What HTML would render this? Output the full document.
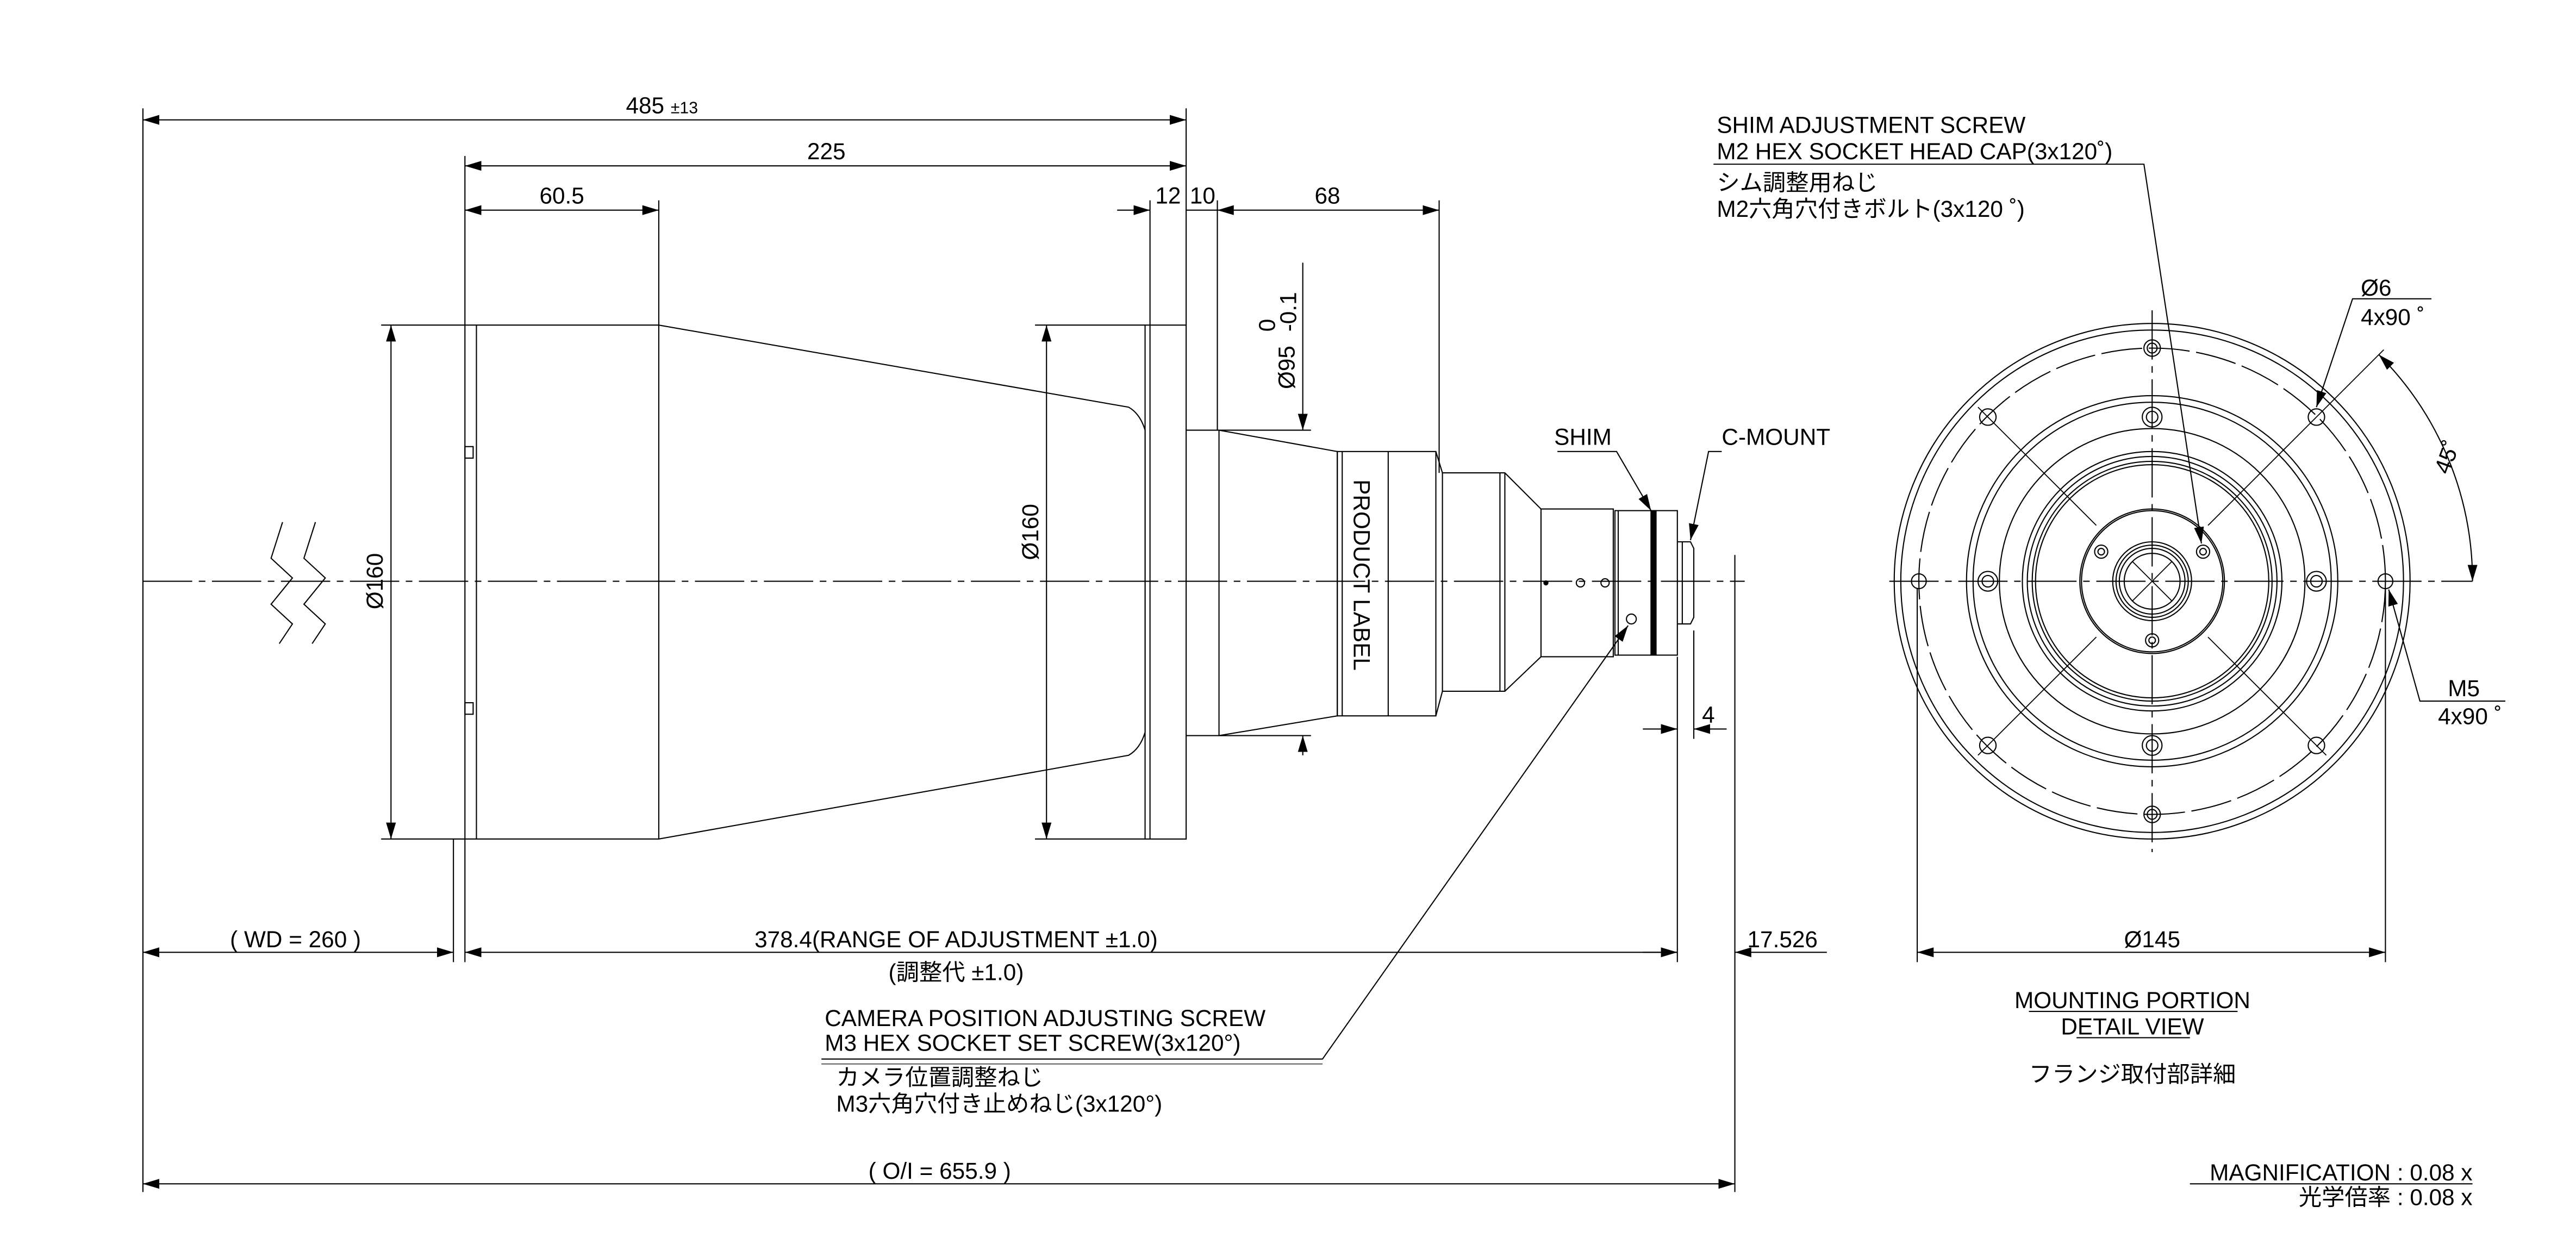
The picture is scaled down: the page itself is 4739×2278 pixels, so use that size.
<!DOCTYPE html>
<html><head><meta charset="utf-8"><style>
html,body{margin:0;padding:0;background:#fff}
svg{display:block}
text{font-family:"Liberation Sans","Noto Sans CJK JP",sans-serif;fill:#000;font-size:14px}
</style></head><body>
<svg width="4739" height="2278" viewBox="0 0 1568 754" preserveAspectRatio="none" xmlns="http://www.w3.org/2000/svg">
<defs>
<marker id="a" viewBox="0 0 10 6" refX="10" refY="3" markerWidth="10" markerHeight="6" orient="auto-start-reverse" markerUnits="userSpaceOnUse"><path d="M0,0 L10,3 L0,6z" fill="#000"/></marker>
</defs>
<g fill="none" stroke="#000" stroke-width="0.7">
<line x1="87" y1="354" x2="1062" y2="354" stroke-dasharray="30,4,4,4"/>
<polyline points="172,318 165,340 178,352 165,368 178,380 170,392"/>
<polyline points="192,318 185,340 198,352 185,368 198,380 190,392"/>
<path d="M283,198 L401,198 L687,248 Q694,252 697,262 L697,446 Q694,456 687,460 L401,511 L283,511 Z"/>
<line x1="290" y1="198" x2="290" y2="511"/>
<line x1="401" y1="198" x2="401" y2="511"/>
<rect x="283" y="272" width="5" height="7"/><rect x="283" y="428" width="5" height="7"/>
<rect x="697" y="198" width="25" height="313"/>
<line x1="700" y1="198" x2="700" y2="511"/>
<path d="M722,262 L742,262 L814,275 L814,436 L742,448 L722,448"/>
<line x1="742" y1="262" x2="742" y2="448"/>
<rect x="814" y="275" width="60" height="161"/>
<line x1="817" y1="275" x2="817" y2="436"/>
<line x1="845" y1="275" x2="845" y2="436"/>
<path d="M874,275 L878,288 L916,288 L938,310 L982,310 L982,400 L938,400 L916,421 L878,421 L874,436"/>
<line x1="878" y1="288" x2="878" y2="421"/>
<line x1="913" y1="288" x2="913" y2="421"/>
<line x1="916" y1="288" x2="916" y2="421"/>
<line x1="938" y1="310" x2="938" y2="400"/>
<rect x="983" y="311" width="22" height="88"/>
<line x1="985" y1="311" x2="985" y2="399"/>
<rect x="1005" y="311" width="3" height="88" fill="#000"/>
<rect x="1008" y="311" width="13" height="88"/>
<path d="M1021,330 L1029,330 L1031,334 L1031,376 L1029,380 L1021,380"/>
<line x1="1024" y1="330" x2="1024" y2="380"/>
<circle cx="941" cy="355" r="1.2" fill="#000"/>
<circle cx="962" cy="355" r="2.5"/><circle cx="977" cy="355" r="2.5"/>
<circle cx="993" cy="377" r="3"/>
<line x1="793" y1="160" x2="793" y2="262" marker-end="url(#a)"/>
<line x1="793" y1="460" x2="793" y2="448" marker-end="url(#a)"/>
<line x1="742" y1="262" x2="798" y2="262"/><line x1="742" y1="448" x2="798" y2="448"/>
<line x1="232" y1="198" x2="283" y2="198"/><line x1="232" y1="511" x2="283" y2="511"/>
<line x1="238" y1="198" x2="238" y2="511" marker-start="url(#a)" marker-end="url(#a)"/>
<line x1="630" y1="198" x2="697" y2="198"/><line x1="630" y1="511" x2="697" y2="511"/>
<line x1="637" y1="198" x2="637" y2="511" marker-start="url(#a)" marker-end="url(#a)"/>
<line x1="87" y1="66" x2="87" y2="726"/>
<line x1="722" y1="66" x2="722" y2="198"/>
<line x1="283" y1="95" x2="283" y2="198"/>
<line x1="401" y1="122" x2="401" y2="198"/>
<line x1="700" y1="122" x2="700" y2="198"/>
<line x1="741" y1="122" x2="741" y2="262"/>
<line x1="876" y1="122" x2="876" y2="288"/>
<line x1="87" y1="73" x2="722" y2="73" marker-start="url(#a)" marker-end="url(#a)"/>
<line x1="283" y1="101" x2="722" y2="101" marker-start="url(#a)" marker-end="url(#a)"/>
<line x1="283" y1="128" x2="401" y2="128" marker-start="url(#a)" marker-end="url(#a)"/>
<line x1="680" y1="128" x2="700" y2="128" marker-end="url(#a)"/>
<line x1="741" y1="128" x2="876" y2="128" marker-start="url(#a)" marker-end="url(#a)"/>
<line x1="722" y1="128" x2="741" y2="128"/>
<line x1="276" y1="511" x2="276" y2="586"/>
<line x1="283" y1="511" x2="283" y2="586"/>
<line x1="1021" y1="400" x2="1021" y2="586"/>
<line x1="1056" y1="338" x2="1056" y2="726"/>
<line x1="1031" y1="384" x2="1031" y2="450"/>
<line x1="87" y1="580" x2="276" y2="580" marker-start="url(#a)" marker-end="url(#a)"/>
<line x1="283" y1="580" x2="1021" y2="580" marker-start="url(#a)" marker-end="url(#a)"/>
<line x1="1056" y1="580" x2="1112" y2="580" marker-start="url(#a)"/>
<line x1="1000" y1="580" x2="1021" y2="580"/>
<line x1="87" y1="721" x2="1056" y2="721" marker-start="url(#a)" marker-end="url(#a)"/>
<line x1="1000" y1="444" x2="1021" y2="444" marker-end="url(#a)"/>
<line x1="1051" y1="444" x2="1031" y2="444" marker-end="url(#a)"/>
<polyline points="948,275 984,275 1005,311" marker-end="url(#a)"/>
<polyline points="1048,275 1040,275 1029,329" marker-end="url(#a)"/>
<polyline points="500,645 805,645 991,381" marker-end="url(#a)"/>
<line x1="500" y1="648" x2="805" y2="648" stroke-width="0.4"/>
<g transform="translate(1310,354)">
<line x1="-160" y1="0" x2="195" y2="0" stroke-dasharray="30,4,4,4"/>
<line x1="0" y1="-165" x2="0" y2="165" stroke-dasharray="30,4,4,4"/>
<circle r="157"/><circle r="153"/>
<circle r="142" stroke-dasharray="25,4"/>
<circle r="113"/><circle r="109"/><circle r="93"/>
<circle r="79"/><circle r="76"/><circle r="73"/><circle r="71"/>
<circle r="44"/><circle r="43"/>
<circle r="24"/><circle r="22"/><circle r="20"/><circle r="17"/>
<g stroke-width="0.6">
<line x1="34" y1="-34" x2="141" y2="-141"/><line x1="-34" y1="-34" x2="-106" y2="-106"/>
<line x1="34" y1="34" x2="106" y2="106"/><line x1="-34" y1="34" x2="-106" y2="106"/>
<line x1="-12" y1="12" x2="12" y2="-12"/><line x1="-12" y1="-12" x2="12" y2="12"/>
</g>
<circle cx="-142" cy="0" r="4.5"/><circle cx="142" cy="0" r="4.5"/>
<circle cx="0" cy="-142" r="5"/><circle cx="0" cy="-142" r="3"/>
<circle cx="0" cy="142" r="5"/><circle cx="0" cy="142" r="3"/>
<circle cx="-100" cy="-100" r="5"/><circle cx="100" cy="-100" r="5"/>
<circle cx="-100" cy="100" r="5"/><circle cx="100" cy="100" r="5"/>
<circle cx="0" cy="-100" r="6"/><circle cx="0" cy="-100" r="3.5"/>
<circle cx="0" cy="100" r="6"/><circle cx="0" cy="100" r="3.5"/>
<circle cx="-100" cy="0" r="6"/><circle cx="-100" cy="0" r="3.5"/>
<circle cx="100" cy="0" r="6"/><circle cx="100" cy="0" r="3.5"/>
<circle cx="-31" cy="-18" r="4"/><circle cx="-31" cy="-18" r="2"/>
<circle cx="31" cy="-18" r="4"/><circle cx="31" cy="-18" r="2"/>
<circle cx="0" cy="36" r="4"/><circle cx="0" cy="36" r="2"/>
<path d="M138,-138 A195,195 0 0 1 195,0" marker-start="url(#a)" marker-end="url(#a)"/>
</g>
<line x1="1167" y1="358" x2="1167" y2="586"/>
<line x1="1452" y1="358" x2="1452" y2="586"/>
<line x1="1167" y1="580" x2="1452" y2="580" marker-start="url(#a)" marker-end="url(#a)"/>
<polyline points="1043,100 1305,100 1340,331" marker-end="url(#a)"/>
<polyline points="1480,182 1432,182 1410,248" marker-end="url(#a)"/>
<polyline points="1525,427 1473,427 1454,359" marker-end="url(#a)"/>
<line x1="1235" y1="616" x2="1362" y2="616"/>
<line x1="1264" y1="632" x2="1333" y2="632"/>
<line x1="1333" y1="721" x2="1505" y2="721"/>
</g>
<text x="381" y="69">485 <tspan font-size="10">±13</tspan></text>
<text x="503" y="97" text-anchor="middle">225</text>
<text x="342" y="124" text-anchor="middle">60.5</text>
<text x="711" y="124" text-anchor="middle">12</text>
<text x="732" y="124" text-anchor="middle">10</text>
<text x="808" y="124" text-anchor="middle">68</text>
<text transform="translate(233,354) rotate(-90)" text-anchor="middle">Ø160</text>
<text transform="translate(632,324) rotate(-90)" text-anchor="middle">Ø160</text>
<text transform="translate(788,237) rotate(-90)">Ø95</text>
<text transform="translate(776,202) rotate(-90)" font-size="10">0</text>
<text transform="translate(789,202) rotate(-90)" font-size="10">-0.1</text>
<text transform="translate(824,292) rotate(90)">PRODUCT LABEL</text>
<text x="946" y="271">SHIM</text>
<text x="1048" y="271">C-MOUNT</text>
<text x="1036" y="440">4</text>
<text x="140" y="577">(  WD = 260  )</text>
<text x="582" y="577" text-anchor="middle">378.4(RANGE OF ADJUSTMENT  ±1.0)</text>
<text x="582" y="597" text-anchor="middle">(調整代  ±1.0)</text>
<text x="1085" y="577" text-anchor="middle">17.526</text>
<text x="572" y="718" text-anchor="middle">(  O/I = 655.9  )</text>
<text x="502" y="625">CAMERA POSITION ADJUSTING SCREW</text>
<text x="502" y="640">M3 HEX SOCKET SET SCREW(3x120°)</text>
<text x="509" y="661">カメラ位置調整ねじ</text>
<text x="509" y="677">M3六角穴付き止めねじ(3x120°)</text>
<text x="1045" y="81">SHIM ADJUSTMENT SCREW</text>
<text x="1045" y="97">M2 HEX SOCKET HEAD CAP(3x120˚)</text>
<text x="1045" y="116">シム調整用ねじ</text>
<text x="1045" y="132">M2六角穴付きボルト(3x120 ˚)</text>
<text x="1437" y="180">Ø6</text>
<text x="1437" y="198">4x90 ˚</text>
<text transform="translate(1494,280) rotate(-70)" text-anchor="middle">45˚</text>
<text x="1490" y="424">M5</text>
<text x="1484" y="441">4x90 ˚</text>
<text x="1310" y="577" text-anchor="middle">Ø145</text>
<text x="1298" y="614" text-anchor="middle">MOUNTING PORTION</text>
<text x="1298" y="630" text-anchor="middle">DETAIL VIEW</text>
<text x="1298" y="659" text-anchor="middle">フランジ取付部詳細</text>
<text x="1505" y="719" text-anchor="end">MAGNIFICATION : 0.08 x</text>
<text x="1505" y="734" text-anchor="end">光学倍率 : 0.08 x</text>
</svg>
</body></html>
